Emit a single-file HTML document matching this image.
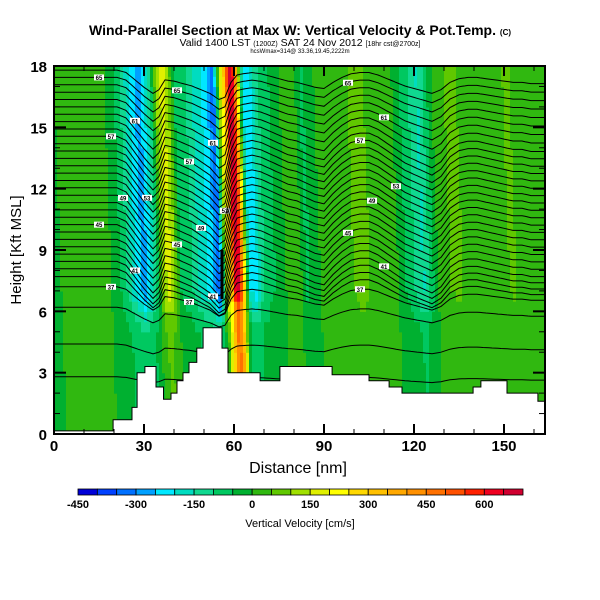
<!DOCTYPE html>
<html><head><meta charset="utf-8">
<style>
body{margin:0;background:#fff;}
svg{display:block;font-family:"Liberation Sans",sans-serif;}
</style></head>
<body>
<svg id="chart" width="600" height="600" viewBox="0 0 600 600">
<defs><clipPath id="pc"><rect x="54" y="66" width="491" height="368"/></clipPath></defs>
<text x="300" y="35" text-anchor="middle" font-size="14" font-weight="bold">Wind-Parallel Section at Max W: Vertical Velocity &amp; Pot.Temp. <tspan font-size="8">(C)</tspan></text>
<text x="300" y="46" text-anchor="middle" font-size="10.5">Valid 1400 LST <tspan font-size="7">(1200Z)</tspan> SAT 24 Nov 2012 <tspan font-size="7">[18hr cst@2700z]</tspan></text>
<text x="300" y="53" text-anchor="middle" font-size="6">hcsWmax=314@ 33.36,19.45,2222m</text>
<g id="field" clip-path="url(#pc)"></g>
<g id="contours" clip-path="url(#pc)"></g>
<g id="terrain"></g>
<rect x="54" y="66" width="491" height="368" fill="none" stroke="#000" stroke-width="2"/>
<g id="axes"></g>
<text x="298" y="473" text-anchor="middle" font-size="16">Distance [nm]</text>
<text transform="translate(21,250) rotate(-90)" text-anchor="middle" font-size="15">Height [Kft MSL]</text>
<g id="cbar"></g>
<text x="300" y="527" text-anchor="middle" font-size="11">Vertical Velocity [cm/s]</text>
</svg>
<script>
const NS="http://www.w3.org/2000/svg";
// data
const wX=[0,3,6,9,12,15,18,21,24,27,30,32,34,36,38,40,42,45,48,51,53,55,57,59,60,61,62,63,64,65,67,69,72,75,78,81,84,87,90,93,96,99,102,105,108,111,114,117,120,123,126,129,132,135,138,141,144,147,150,153,156,159,162,164];
const wVal=[-20,10,10,20,20,20,10,-30,-100,-200,-280,-200,-100,100,180,100,-50,-80,-150,-200,-250,-350,100,350,620,680,550,300,0,-200,-230,-120,-60,-40,20,40,-60,-30,30,50,20,40,80,50,20,0,10,-50,-100,-160,-60,40,50,60,30,20,40,10,40,60,20,30,40,40];
const dX=[0,21,24,27,30,33,35,37,40,43,46,49,52,55,57,59,61,63,66,69,72,75,78,81,84,87,90,93,96,99,102,105,108,111,114,117,120,123,126,129,132,135,138,141,144,147,150,153,156,159,164];
const dVal=[0,0,-0.2,-0.8,-1.4,-1.9,-1.6,-0.8,-0.9,-1.1,-1.3,-1.6,-1.9,-2.4,-2.2,-1.0,-0.4,-0.3,-0.2,-0.3,-0.5,-0.7,-0.9,-1.0,-1.2,-1.4,-1.5,-1.0,-0.6,-0.3,-0.2,-0.2,-0.4,-0.7,-1.0,-1.3,-1.5,-1.7,-1.9,-1.6,-1.0,-0.7,-0.6,-0.6,-0.7,-0.8,-0.9,-1.0,-1.0,-1.1,-1.1];
const thetaBase=[17.8,17.44,17.08,16.72,16.36,16.0,15.64,15.28,14.92,14.56,14.2,13.84,13.48,13.12,12.76,12.4,12.04,11.68,11.32,10.96,10.6,10.24,9.88,9.52,9.16,8.8,8.44,8.08,7.7,7.2,6.2,4.4,2.8];
const thetaAmp=[0.6,0.65,0.7,0.75,0.8,0.85,0.9,0.95,1,1,1,1,1,1,1,1,1,1,1,1,1,1,1,1,1,1,0.95,0.9,0.8,0.6,0.4,0.25,0.15];
const terrX=[0,19.7,19.7,26,26,27.7,27.7,30.3,30.3,34,34,36.5,36.5,39,39,41,41,43,43,45,45,47.6,47.6,49.7,49.7,56,56,58,58,68.7,68.7,75.3,75.3,77.7,77.7,92.7,92.7,105,105,111.7,111.7,116,116,139.7,139.7,142.3,142.3,151,151,161.3,161.3,163.7];
const terrH=[0.15,0.15,0.7,0.7,1.3,1.3,3.0,3.0,3.3,3.3,2.3,2.3,1.7,1.7,2.0,2.0,2.6,2.6,3.0,3.0,3.5,3.5,4.2,4.2,5.2,5.2,4.2,4.2,3.0,3.0,2.6,2.6,3.3,3.3,3.3,3.3,2.9,2.9,2.6,2.6,2.3,2.3,2.0,2.0,2.3,2.3,2.6,2.6,2.0,2.0,1.6,1.6];
const cbColors=["#0000d8","#0040ff","#0070ff","#00a0ff","#00e8ff","#00dcc0","#10d890","#00c860","#00b030","#30b810","#60c800","#a0e000","#e0f000","#ffff00","#ffd800","#ffc000","#ffa800","#ff9000","#ff7000","#ff5000","#ff2000","#f00020","#d00030"];
const cbTicks=[-450,-300,-150,0,150,300,450,600];
const xTicks=[0,30,60,90,120,150];
const yTicks=[0,3,6,9,12,15,18];

const X0=54,XS=3.0,Y0=434,YS=368/18;
const sx=v=>X0+v*XS, sy=v=>Y0-v*YS;
function interp(xs,ys,x){if(x<=xs[0])return ys[0];for(let i=1;i<xs.length;i++){if(x<=xs[i]){const t=(x-xs[i-1])/(xs[i]-xs[i-1]);return ys[i-1]+t*(ys[i]-ys[i-1]);}}return ys[ys.length-1];}
function col(w){let i=Math.floor((w+450)/50);i=Math.max(0,Math.min(cbColors.length-1,i));return cbColors[i];}
function terrAt(x){for(let i=1;i<terrX.length;i++){if(x<=terrX[i])return Math.max(terrH[i-1],terrH[i]);}return terrH[terrH.length-1];}

const field=document.getElementById('field');
for(let x=0;x<164;x+=1){
  for(let h=0;h<18;h+=0.5){
    const hm=h+0.25;
    const xq=x+0.5+0.25*(hm-9);
    let w=interp(wX,wVal,xq);
    let f=hm>7?1:(hm>5?0.35+0.65*(hm-5)/2:0.35);
    if(w>200&&hm>2)f=Math.max(f,0.7);
    w=w*f;
    const r=document.createElementNS(NS,'rect');
    r.setAttribute('x',sx(x));r.setAttribute('y',sy(h+0.5));
    r.setAttribute('width',XS+0.6);r.setAttribute('height',YS*0.5+0.6);
    r.setAttribute('fill',col(w));
    
    
    field.appendChild(r);
  }
}
// dark core of updraft
const core=document.createElementNS(NS,'rect');
core.setAttribute('x',sx(55.5));core.setAttribute('y',sy(9));core.setAttribute('width',3);core.setAttribute('height',YS*2.4);core.setAttribute('fill','#000');


field.appendChild(core);

const cont=document.getElementById('contours');
thetaBase.forEach((b,i)=>{
  let pts=[];
  for(let x=0;x<=164;x+=1){const h=b+thetaAmp[i]*interp(dX,dVal,x);pts.push(sx(x).toFixed(1)+','+sy(h).toFixed(1));}
  const p=document.createElementNS(NS,'polyline');
  p.setAttribute('points',pts.join(' '));p.setAttribute('fill','none');p.setAttribute('stroke','#000');p.setAttribute('stroke-width','1');
  
  
  cont.appendChild(p);
  if(i%4===1){
    [12,38,95].forEach((lx,k)=>{
      const lxx=lx+ (i*3)%20;
      const h=b+thetaAmp[i]*interp(dX,dVal,lxx);
      const r=document.createElementNS(NS,'rect');
      r.setAttribute('x',sx(lxx)-5);r.setAttribute('y',sy(h)-3);r.setAttribute('width',10);r.setAttribute('height',6);r.setAttribute('fill','#fff');
      
      
      cont.appendChild(r);
      const t=document.createElementNS(NS,'text');
      t.setAttribute('x',sx(lxx));t.setAttribute('y',sy(h)+2.5);t.setAttribute('font-size','6');t.setAttribute('text-anchor','middle');t.setAttribute('font-weight','bold');
      t.textContent=String(66-i);
      
      
      cont.appendChild(t);
    });
  }
});

const ter=document.getElementById('terrain');
let tp=[sx(0)+','+(Y0)];
terrX.forEach((x,i)=>tp.push(sx(x).toFixed(1)+','+sy(terrH[i]).toFixed(1)));
tp.push(sx(163.7)+','+Y0);
const poly=document.createElementNS(NS,'polygon');
poly.setAttribute('points',tp.join(' '));poly.setAttribute('fill','#fff');poly.setAttribute('stroke','#000');poly.setAttribute('stroke-width','1');


ter.appendChild(poly);

const ax=document.getElementById('axes');
function line(x1,y1,x2,y2,w,name){const l=document.createElementNS(NS,'line');l.setAttribute('x1',x1);l.setAttribute('y1',y1);l.setAttribute('x2',x2);l.setAttribute('y2',y2);l.setAttribute('stroke','#000');l.setAttribute('stroke-width',w);


ax.appendChild(l);}
function text(x,y,s,fs,anchor,name,parent){const t=document.createElementNS(NS,'text');t.setAttribute('x',x);t.setAttribute('y',y);t.setAttribute('font-size',fs);t.setAttribute('text-anchor',anchor);t.setAttribute('font-weight','bold');t.textContent=s;


parent.appendChild(t);}
for(let v=0;v<=160;v+=10){const major=v%30===0;const x=sx(v);line(x,Y0,x,Y0-(major?10:5),major?2:1,'x-tick');line(x,66,x,66+(major?10:5),major?2:1,'x-tick-top');}
for(let v=0;v<=18;v+=1){const major=v%3===0;const y=sy(v);line(X0,y,X0+(major?12:6),y,major?2:1,'y-tick');line(545,y,545-(major?12:6),y,major?2:1,'y-tick-right');}
xTicks.forEach(v=>text(sx(v),451,String(v),15,'middle','x-tick-label',ax));
yTicks.forEach(v=>text(47,sy(v)+6,String(v),15,'end','y-tick-label',ax));

const cb=document.getElementById('cbar');
const CB0=78,CBW=445/cbColors.length;
cbColors.forEach((c,i)=>{const r=document.createElementNS(NS,'rect');r.setAttribute('x',CB0+i*CBW);r.setAttribute('y',489);r.setAttribute('width',CBW);r.setAttribute('height',6);r.setAttribute('fill',c);r.setAttribute('stroke','#000');r.setAttribute('stroke-width','0.8');


cb.appendChild(r);});
cbTicks.forEach(v=>text(CB0+(v+450)/50*CBW,508,String(v),11,'middle','colorbar-tick-label',cb));
</script>
</body></html>
